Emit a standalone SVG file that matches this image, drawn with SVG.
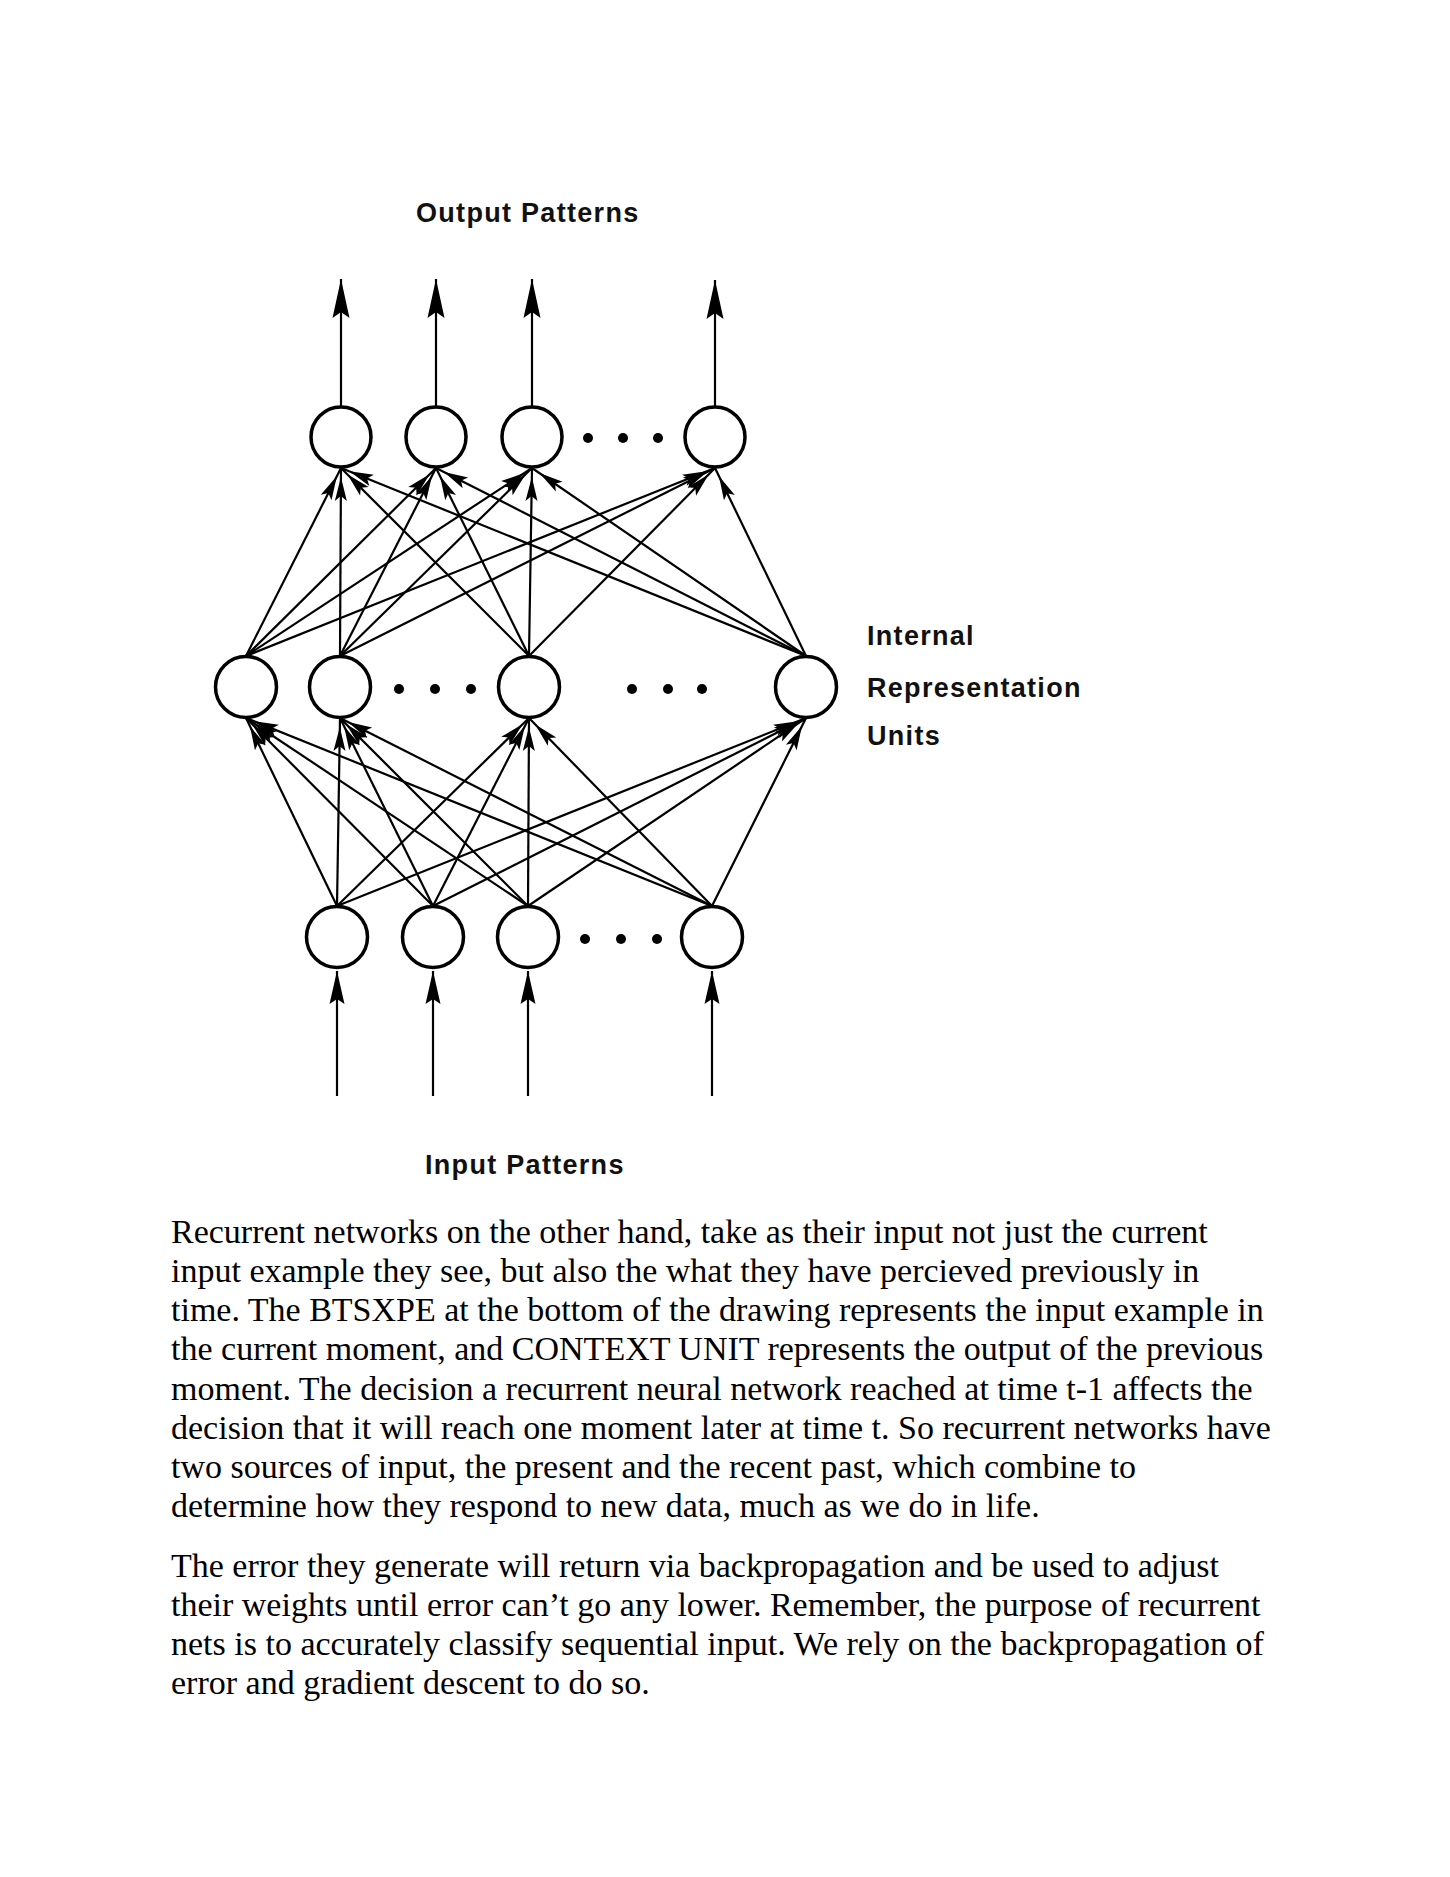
<svg xmlns="http://www.w3.org/2000/svg" width="1450" height="1877" viewBox="0 0 1450 1877">
<style>
.node{fill:#fff;stroke:#000;stroke-width:3.5}
.dot{fill:#000}
.conn{stroke:#000;stroke-width:2.2;fill:none}
.lbl{font-family:"Liberation Sans",Arial,sans-serif;font-weight:bold;font-size:27px;letter-spacing:1.3px;fill:#111}
.body{font-family:"Liberation Serif","Times New Roman",serif;font-size:34px;fill:#000}
</style>
<defs>
<marker id="ah" markerUnits="userSpaceOnUse" orient="auto" refX="0" refY="0" overflow="visible">
<path d="M-9,0 L-33,-6 L-28,0 L-33,6 z" fill="#000"/>
</marker>
<marker id="ahOut" markerUnits="userSpaceOnUse" orient="auto" refX="0" refY="0" overflow="visible">
<path d="M0,0 L-39,-8.5 L-33,0 L-39,8.5 z" fill="#000"/>
</marker>
<marker id="ahIn" markerUnits="userSpaceOnUse" orient="auto" refX="0" refY="0" overflow="visible">
<path d="M0,0 L-33,-7.5 L-28,0 L-33,7.5 z" fill="#000"/>
</marker>
</defs>
<rect width="1450" height="1877" fill="#fff"/>

<g id="connectors">
<!-- output pattern arrows -->
<line class="conn" x1="341" y1="407" x2="341" y2="279" marker-end="url(#ahOut)"/>
<line class="conn" x1="436" y1="407" x2="436" y2="279" marker-end="url(#ahOut)"/>
<line class="conn" x1="532" y1="407" x2="532" y2="279" marker-end="url(#ahOut)"/>
<line class="conn" x1="715" y1="407" x2="715" y2="280" marker-end="url(#ahOut)"/>
<!-- input pattern arrows -->
<line class="conn" x1="337" y1="1096" x2="337" y2="971" marker-end="url(#ahIn)"/>
<line class="conn" x1="433" y1="1096" x2="433" y2="971" marker-end="url(#ahIn)"/>
<line class="conn" x1="528" y1="1096" x2="528" y2="971" marker-end="url(#ahIn)"/>
<line class="conn" x1="712" y1="1096" x2="712" y2="971" marker-end="url(#ahIn)"/>
<!-- hidden to output -->
<line class="conn" x1="246" y1="656" x2="341" y2="468" marker-end="url(#ah)"/>
<line class="conn" x1="246" y1="656" x2="436" y2="468" marker-end="url(#ah)"/>
<line class="conn" x1="246" y1="656" x2="532" y2="468" marker-end="url(#ah)"/>
<line class="conn" x1="246" y1="656" x2="715" y2="468" marker-end="url(#ah)"/>
<line class="conn" x1="340" y1="656" x2="341" y2="468" marker-end="url(#ah)"/>
<line class="conn" x1="340" y1="656" x2="436" y2="468" marker-end="url(#ah)"/>
<line class="conn" x1="340" y1="656" x2="532" y2="468" marker-end="url(#ah)"/>
<line class="conn" x1="340" y1="656" x2="715" y2="468" marker-end="url(#ah)"/>
<line class="conn" x1="529" y1="656" x2="341" y2="468" marker-end="url(#ah)"/>
<line class="conn" x1="529" y1="656" x2="436" y2="468" marker-end="url(#ah)"/>
<line class="conn" x1="529" y1="656" x2="532" y2="468" marker-end="url(#ah)"/>
<line class="conn" x1="529" y1="656" x2="715" y2="468" marker-end="url(#ah)"/>
<line class="conn" x1="806" y1="656" x2="341" y2="468" marker-end="url(#ah)"/>
<line class="conn" x1="806" y1="656" x2="436" y2="468" marker-end="url(#ah)"/>
<line class="conn" x1="806" y1="656" x2="532" y2="468" marker-end="url(#ah)"/>
<line class="conn" x1="806" y1="656" x2="715" y2="468" marker-end="url(#ah)"/>
<!-- input to hidden -->
<line class="conn" x1="337" y1="906" x2="246" y2="718" marker-end="url(#ah)"/>
<line class="conn" x1="337" y1="906" x2="340" y2="718" marker-end="url(#ah)"/>
<line class="conn" x1="337" y1="906" x2="529" y2="718" marker-end="url(#ah)"/>
<line class="conn" x1="337" y1="906" x2="806" y2="718" marker-end="url(#ah)"/>
<line class="conn" x1="433" y1="906" x2="246" y2="718" marker-end="url(#ah)"/>
<line class="conn" x1="433" y1="906" x2="340" y2="718" marker-end="url(#ah)"/>
<line class="conn" x1="433" y1="906" x2="529" y2="718" marker-end="url(#ah)"/>
<line class="conn" x1="433" y1="906" x2="806" y2="718" marker-end="url(#ah)"/>
<line class="conn" x1="528" y1="906" x2="246" y2="718" marker-end="url(#ah)"/>
<line class="conn" x1="528" y1="906" x2="340" y2="718" marker-end="url(#ah)"/>
<line class="conn" x1="528" y1="906" x2="529" y2="718" marker-end="url(#ah)"/>
<line class="conn" x1="528" y1="906" x2="806" y2="718" marker-end="url(#ah)"/>
<line class="conn" x1="712" y1="906" x2="246" y2="718" marker-end="url(#ah)"/>
<line class="conn" x1="712" y1="906" x2="340" y2="718" marker-end="url(#ah)"/>
<line class="conn" x1="712" y1="906" x2="529" y2="718" marker-end="url(#ah)"/>
<line class="conn" x1="712" y1="906" x2="806" y2="718" marker-end="url(#ah)"/>
</g>

<g id="output-layer">
<g id="out1"><circle class="node" cx="341" cy="437" r="30"/></g>
<g id="out2"><circle class="node" cx="436" cy="437" r="30"/></g>
<g id="out3"><circle class="node" cx="532" cy="437" r="30"/></g>
<g id="out-dots"><circle class="dot" cx="588" cy="438" r="5"/><circle class="dot" cx="623" cy="438" r="5"/><circle class="dot" cx="658" cy="438" r="5"/></g>
<g id="out4"><circle class="node" cx="715" cy="437" r="30"/></g>
</g>

<g id="hidden-layer">
<g id="hid1"><circle class="node" cx="246" cy="687" r="30.5"/></g>
<g id="hid2"><circle class="node" cx="340" cy="687" r="30.5"/></g>
<g id="hid-dots1"><circle class="dot" cx="399" cy="689" r="5"/><circle class="dot" cx="435" cy="689" r="5"/><circle class="dot" cx="471" cy="689" r="5"/></g>
<g id="hid3"><circle class="node" cx="529" cy="687" r="30.5"/></g>
<g id="hid-dots2"><circle class="dot" cx="632" cy="689" r="5"/><circle class="dot" cx="668" cy="689" r="5"/><circle class="dot" cx="702" cy="689" r="5"/></g>
<g id="hid4"><circle class="node" cx="806" cy="687" r="30.5"/></g>
</g>

<g id="input-layer">
<g id="in1"><circle class="node" cx="337" cy="937" r="30.5"/></g>
<g id="in2"><circle class="node" cx="433" cy="937" r="30.5"/></g>
<g id="in3"><circle class="node" cx="528" cy="937" r="30.5"/></g>
<g id="in-dots"><circle class="dot" cx="585" cy="939" r="5"/><circle class="dot" cx="621" cy="939" r="5"/><circle class="dot" cx="657" cy="939" r="5"/></g>
<g id="in4"><circle class="node" cx="712" cy="937" r="30.5"/></g>
</g>

<g id="labels">
<text class="lbl" x="416" y="222">Output Patterns</text>
<text class="lbl" x="867" y="645">Internal</text>
<text class="lbl" x="867" y="697">Representation</text>
<text class="lbl" x="867" y="745">Units</text>
<text class="lbl" x="425" y="1174">Input Patterns</text>
</g>

<g id="paragraph1" class="body">
<text x="171" y="1243">Recurrent networks on the other hand, take as their input not just the current</text>
<text x="171" y="1282">input example they see, but also the what they have percieved previously in</text>
<text x="171" y="1321">time. The BTSXPE at the bottom of the drawing represents the input example in</text>
<text x="171" y="1360">the current moment, and CONTEXT UNIT represents the output of the previous</text>
<text x="171" y="1399.5">moment. The decision a recurrent neural network reached at time t-1 affects the</text>
<text x="171" y="1438.5">decision that it will reach one moment later at time t. So recurrent networks have</text>
<text x="171" y="1477.5">two sources of input, the present and the recent past, which combine to</text>
<text x="171" y="1517">determine how they respond to new data, much as we do in life.</text>
</g>
<g id="paragraph2" class="body">
<text x="171" y="1577">The error they generate will return via backpropagation and be used to adjust</text>
<text x="171" y="1616">their weights until error can’t go any lower. Remember, the purpose of recurrent</text>
<text x="171" y="1655">nets is to accurately classify sequential input. We rely on the backpropagation of</text>
<text x="171" y="1694">error and gradient descent to do so.</text>
</g>
</svg>
